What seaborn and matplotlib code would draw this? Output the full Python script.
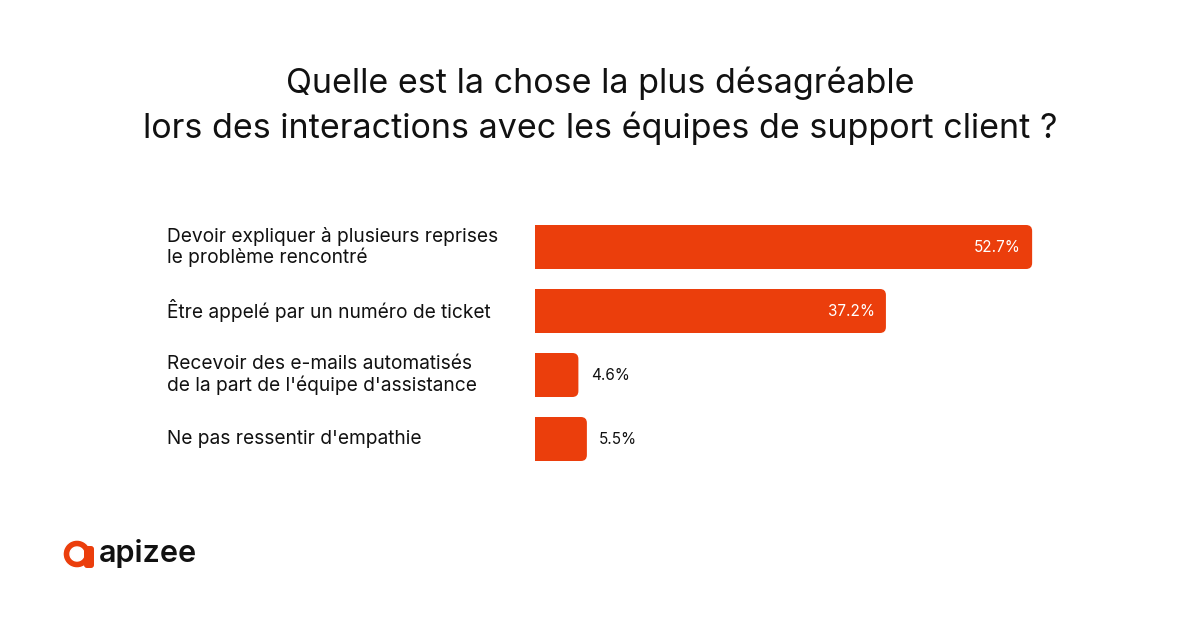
import seaborn as sns
import pandas as pd
import matplotlib.pyplot as plt
from matplotlib.patches import FancyBboxPatch, Wedge

# Survey answers and shares (%)
labels = [
    "Devoir expliquer à plusieurs reprises\nle problème rencontré",
    "Être appelé par un numéro de ticket",
    "Recevoir des e-mails automatisés\nde la part de l'équipe d'assistance",
    "Ne pas ressentir d'empathie",
]
values = [52.7, 37.2, 4.6, 5.5]
value_text = ["52.7%", "37.2%", "4.6%", "5.5%"]

title = ("Quelle est la chose la plus désagréable\n"
         "lors des interactions avec les équipes de support client ?")

ORANGE = "#EB3E0C"
FONT = ["Inter", "DejaVu Sans"]

df = pd.DataFrame({"label": labels, "value": values})

sns.set_style("white")
plt.rcParams["font.family"] = FONT

fig = plt.figure(figsize=(12, 6.3), dpi=100)
ax = fig.add_axes([535 / 1200, 1 - 471 / 630, 566 / 1200, 256 / 630])

sns.barplot(data=df, x="value", y="label", color=ORANGE, saturation=1,
            width=44 / 64, ax=ax)
ax.set_xlim(0, 60)
ax.set_ylim(3.5, -0.5)

# rounded right corners: shorten seaborn's bar and overlay a rounded box
px_x = 566 / 60
px_y = 64
r = 6 / px_x
for bar in ax.patches[:len(values)]:
    x0, y0 = bar.get_x(), bar.get_y()
    w, h = bar.get_width(), bar.get_height()
    bar.set_width(max(w - 2 * r, 0))
    bar.set_edgecolor("none")
    ax.add_patch(FancyBboxPatch((x0, y0), w, h,
                                boxstyle=f"round,pad=0,rounding_size={r}",
                                mutation_aspect=px_x / px_y,
                                facecolor=ORANGE, edgecolor="none"))

for i, (v, t) in enumerate(zip(values, value_text)):
    if v > 20:
        ax.text(v - 1.2, i, t, ha="right", va="center", color="white",
                fontsize=11)
    else:
        ax.text(v + 1.3, i, t, ha="left", va="center", color="#111111",
                fontsize=11)

ax.set_xlabel("")
ax.set_ylabel("")
ax.set_xticks([])
ax.set_yticks([])
sns.despine(ax=ax, left=True, bottom=True)

# category labels, left aligned
for i, lab in enumerate(labels):
    ax.text(-(535 - 167) / px_x, i, lab, ha="left", va="center",
            color="#111111", fontsize=13.8, linespacing=1.12, clip_on=False)

fig.text(0.5, 1 - 106 / 630, title, ha="center", va="center",
         fontsize=24.5, color="#111111", linespacing=1.42)

# logo
lax = fig.add_axes([0, 0, 1, 1], facecolor="none")
lax.set_xlim(0, 1200)
lax.set_ylim(630, 0)
lax.axis("off")
lax.add_patch(Wedge((77, 554), 14, 20, 340, width=7, facecolor=ORANGE))
lax.add_patch(FancyBboxPatch((84, 546), 10, 22,
                             boxstyle="round,pad=0,rounding_size=3",
                             facecolor=ORANGE, edgecolor="none"))
lax.text(99, 553, "apizee", ha="left", va="center", fontsize=22,
         color="#111111", fontweight="semibold")

fig.savefig("out.png", dpi=100, facecolor="white")
